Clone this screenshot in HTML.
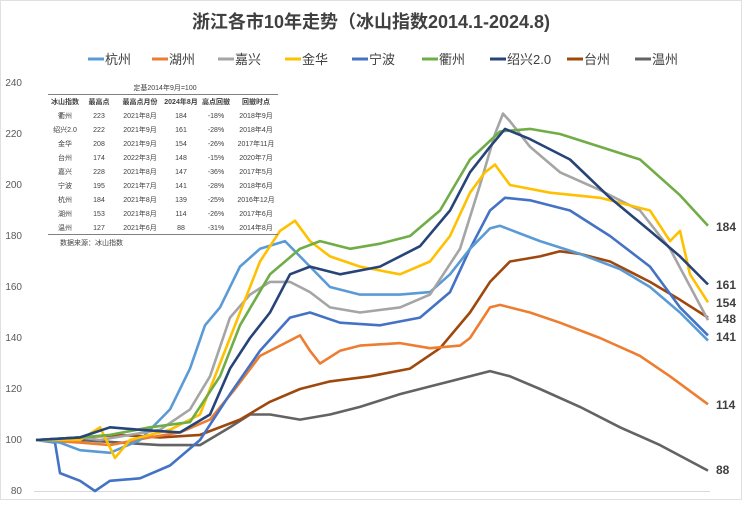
<!DOCTYPE html>
<html><head><meta charset="utf-8"><style>
body{margin:0;background:#fff}
svg text{font-family:"Liberation Sans","Noto Sans CJK SC",sans-serif}
</style></head><body>
<svg id="s" width="742" height="500" xmlns="http://www.w3.org/2000/svg">
<rect x="0.5" y="0.5" width="741" height="499" fill="#fff" stroke="#e0e0e0"/>
<text x="371" y="28" text-anchor="middle" font-size="18" font-weight="bold" fill="#404040">浙江各市10年走势（冰山指数2014.1-2024.8)</text>
<g id="leg" font-size="13" fill="#404040"></g>
<g font-size="10" fill="#595959" text-anchor="end">
<text x="22" y="86">240</text><text x="22" y="137">220</text><text x="22" y="188">200</text><text x="22" y="239">180</text>
<text x="22" y="290">160</text><text x="22" y="341">140</text><text x="22" y="392">120</text><text x="22" y="443">100</text><text x="22" y="494">80</text>
</g>
<line x1="34" y1="491.5" x2="710" y2="491.5" stroke="#d9d9d9"/>
<g id="lines" fill="none" stroke-width="2.6" stroke-linejoin="round"></g>
<g font-size="12" font-weight="bold" fill="#404040">
<text x="716" y="231">184</text><text x="716" y="289">161</text><text x="716" y="307">154</text><text x="716" y="323">148</text>
<text x="716" y="341">141</text><text x="716" y="409">114</text><text x="716" y="474">88</text>
</g>
<g id="tbl" font-size="7" fill="#404040" text-anchor="middle"></g>
</svg>
<script>
const S=document.getElementById('s');
const C={杭州:'#5B9BD5',湖州:'#ED7D31',嘉兴:'#A5A5A5',金华:'#FFC000',宁波:'#4472C4',衢州:'#70AD47','绍兴2.0':'#264478',台州:'#9E480E',温州:'#636363'};
let lx=[88,152,218,285,352,422,490,567,635],i=0,lg='';
for(const k in C){lg+=`<line x1="${lx[i]}" y1="59" x2="${lx[i]+16}" y2="59" stroke="${C[k]}" stroke-width="3"/><text x="${lx[i]+17}" y="64">${k}</text>`;i++;}
document.getElementById('leg').innerHTML=lg;
const D={
温州:[[36,100],[80,100],[120,99],[160,98],[200,98],[230,105],[250,110],[270,110],[300,108],[330,110],[360,113],[400,118],[440,122],[470,125],[490,127],[510,125],[540,120],[580,113],[620,105],[660,98],[708,88]],
台州:[[36,100],[80,101],[120,102],[160,101],[200,102],[240,108],[270,115],[300,120],[330,123],[370,125],[410,128],[440,136],[470,150],[490,162],[510,170],[540,172],[560,174],[580,173],[610,170],[650,162],[680,155],[708,148]],
湖州:[[36,100],[80,99],[110,98],[150,101],[180,103],[210,108],[235,120],[260,133],[285,138],[300,141],[310,135],[320,130],[340,135],[360,137],[400,138],[430,136],[460,137],[470,140],[480,146],[490,152],[500,153],[530,150],[560,146],[600,140],[640,133],[670,125],[708,114]],
宁波:[[36,100],[55,99],[60,87],[80,84],[95,80],[110,84],[140,85],[170,90],[200,100],[230,118],[260,135],[290,148],[310,150],[340,146],[380,145],[420,148],[450,158],[470,175],[490,190],[505,195],[530,194],[570,190],[610,180],[650,168],[680,152],[708,141]],
杭州:[[36,100],[60,99],[80,96],[110,95],[140,100],[170,112],[190,128],[205,145],[220,152],[240,168],[260,175],[285,178],[300,172],[330,160],[360,157],[400,157],[430,158],[450,165],[470,175],[490,183],[500,184],[520,181],[540,178],[580,173],[620,167],[650,160],[680,150],[708,139]],
嘉兴:[[36,100],[80,101],[100,100],[130,102],[160,104],[190,112],[210,125],[230,148],[250,157],[270,162],[290,162],[310,158],[330,152],[360,150],[400,152],[430,157],[460,175],[480,200],[495,220],[503,228],[510,225],[530,215],[560,205],[600,198],[640,190],[670,175],[708,147]],
金华:[[36,100],[80,100],[100,105],[115,93],[130,100],[170,104],[200,110],[230,140],[260,170],[280,182],[295,186],[310,178],[330,172],[360,168],[400,165],[430,170],[450,180],[470,197],[485,205],[495,208],[510,200],[550,197],[600,195],[650,190],[670,178],[680,182],[690,165],[708,154]],
衢州:[[36,100],[80,101],[110,102],[150,105],[190,107],[220,125],[240,145],[270,165],[300,175],[320,178],[350,175],[380,177],[410,180],[440,190],[470,210],[500,221],[530,222],[560,220],[600,215],[640,210],[680,196],[708,184]],
'绍兴2.0':[[36,100],[80,101],[110,105],[140,104],[180,103],[210,110],[230,128],[250,140],[270,150],[290,165],[310,168],[340,165],[380,168],[420,176],[450,190],[470,205],[490,215],[505,222],[530,218],[570,210],[610,195],[650,182],[680,172],[708,161]]};
let h='';for(const k in D){h+=`<polyline stroke="${C[k]}" points="${D[k].map(p=>p[0]+','+(440-(p[1]-100)*2.55).toFixed(1)).join(' ')}"/>`;}
document.getElementById('lines').innerHTML=h;
const cx=[65,99,140,181,216,256];
const R=[['冰山指数','最高点','最高点月份','2024年8月','高点回撤','回撤时点'],['衢州','223','2021年8月','184','-18%','2018年9月'],['绍兴2.0','222','2021年9月','161','-28%','2018年4月'],['金华','208','2021年9月','154','-26%','2017年11月'],['台州','174','2022年3月','148','-15%','2020年7月'],['嘉兴','228','2021年8月','147','-36%','2017年5月'],['宁波','195','2021年7月','141','-28%','2018年6月'],['杭州','184','2021年8月','139','-25%','2016年12月'],['湖州','153','2021年8月','114','-26%','2017年6月'],['温州','127','2021年6月','88','-31%','2014年8月']];
let t='<text x="165" y="90">定基2014年9月=100</text><line x1="48" y1="94.5" x2="278" y2="94.5" stroke="#808080"/><line x1="48" y1="234.5" x2="278" y2="234.5" stroke="#808080"/><text x="60" y="245" text-anchor="start">数据来源：冰山指数</text>';
R.forEach((r,j)=>r.forEach((c,k)=>{t+=`<text x="${cx[k]}" y="${104+j*14}" ${j==0?'font-weight="bold"':''}>${c}</text>`}));
document.getElementById('tbl').innerHTML=t;
</script>
</body></html>
